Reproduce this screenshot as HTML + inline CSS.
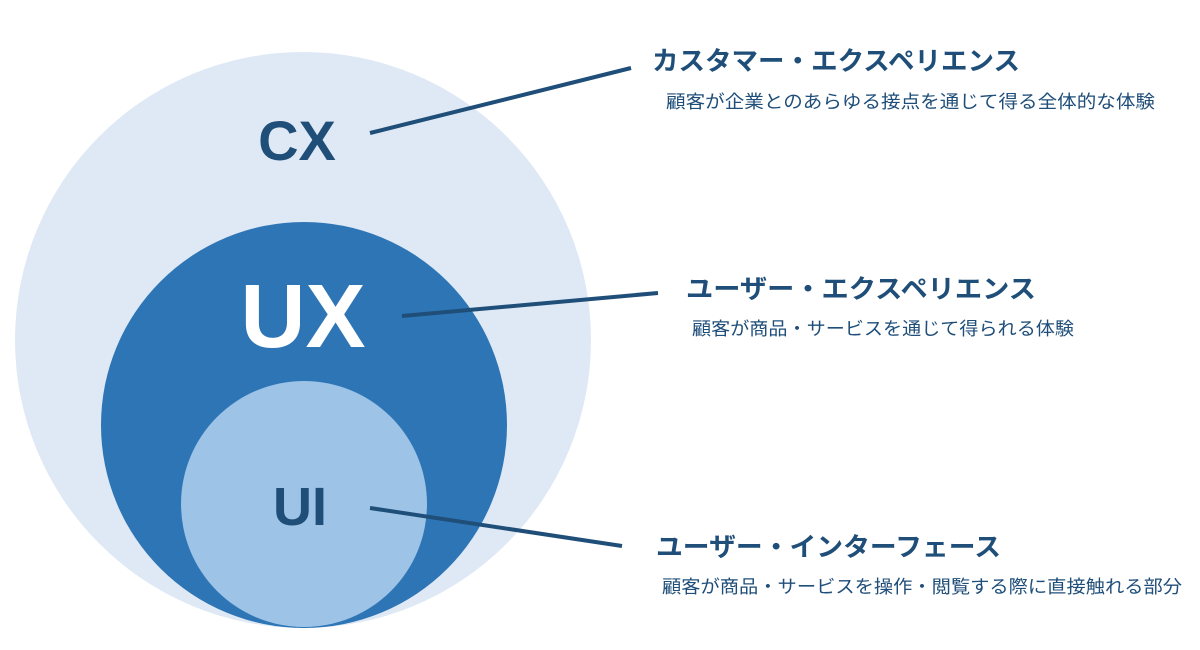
<!DOCTYPE html>
<html><head><meta charset="utf-8"><style>
html,body{margin:0;padding:0;background:#fff;}
svg{display:block;}
text{font-family:"Liberation Sans","Noto Sans CJK JP",sans-serif;}
</style></head><body>
<svg width="1200" height="650" viewBox="0 0 1200 650" xmlns="http://www.w3.org/2000/svg">
<circle cx="303" cy="340" r="288" fill="#dee9f5"/>
<circle cx="304" cy="425" r="203" fill="#2e75b6"/>
<circle cx="304" cy="504" r="123" fill="#9dc3e6"/>
<text x="297" y="160" text-anchor="middle" font-size="56" font-weight="bold" fill="#1f4e79">CX</text>
<text x="303" y="347" text-anchor="middle" font-size="90" font-weight="bold" fill="#fff">UX</text>
<text x="300" y="525" text-anchor="middle" font-size="54" font-weight="bold" fill="#1f4e79">UI</text>
<g stroke="#1f4e79" stroke-width="4" stroke-linecap="butt">
<line x1="370" y1="133" x2="631" y2="68"/>
<line x1="402" y1="316" x2="658" y2="293"/>
<line x1="370" y1="508" x2="622" y2="546"/>
</g>
<g fill="#1f4e79" font-weight="bold" font-size="26">
<text x="652" y="70" textLength="368" lengthAdjust="spacingAndGlyphs">カスタマー・エクスペリエンス</text>
<text x="686" y="298" textLength="350" lengthAdjust="spacingAndGlyphs">ユーザー・エクスペリエンス</text>
<text x="656" y="556" textLength="345" lengthAdjust="spacingAndGlyphs">ユーザー・インターフェース</text>
</g>
<g fill="#1f4e79" font-size="18">
<text x="666" y="108" textLength="489" lengthAdjust="spacingAndGlyphs">顧客が企業とのあらゆる接点を通じて得る全体的な体験</text>
<text x="692" y="335" textLength="382" lengthAdjust="spacingAndGlyphs">顧客が商品・サービスを通じて得られる体験</text>
<text x="662" y="593" textLength="520" lengthAdjust="spacingAndGlyphs">顧客が商品・サービスを操作・閲覧する際に直接触れる部分</text>
</g>
</svg>
</body></html>
